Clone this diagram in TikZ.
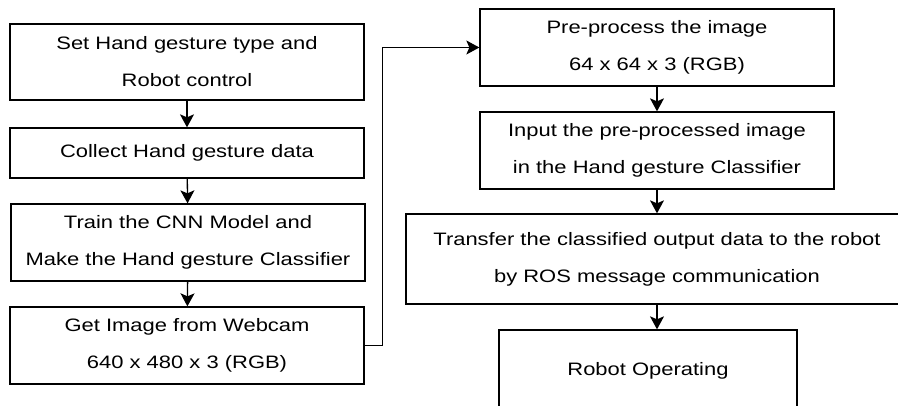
\documentclass[tikz,border=0pt]{standalone}
\usepackage{fontspec}
\setmainfont{Liberation Sans}[FakeStretch=1.22]
\usetikzlibrary{arrows.meta}
\begin{document}
\begin{tikzpicture}[x=1pt,y=-1pt,
  stepbox/.style={draw,line width=1.3pt,rectangle,align=center,inner sep=0pt,
    font=\fontsize{18}{37}\selectfont},
  arr/.style={line width=1.3pt,-{Stealth[length=13pt,width=14pt,inset=3pt]}}]
\useasboundingbox (0,0) rectangle (898,406);
\clip (0,0) rectangle (898,406);
% left column
\node[stepbox,minimum width=354pt,minimum height=76pt] (L1) at (187,62)
  {Set Hand gesture type and\\Robot control};
\node[stepbox,minimum width=354pt,minimum height=50pt] (L2) at (187,153)
  {Collect Hand gesture data};
\node[stepbox,minimum width=354pt,minimum height=77pt] (L3) at (188,242.5)
  {Train the CNN Model and\\Make the Hand gesture Classifier};
\node[stepbox,minimum width=354pt,minimum height=77pt] (L4) at (187,345.5)
  {Get Image from Webcam\\640 x 480 x 3 (RGB)};
% right column
\node[stepbox,minimum width=354pt,minimum height=77pt] (R1) at (657,47.5)
  {Pre-process the image\\64 x 64 x 3 (RGB)};
\node[stepbox,minimum width=354pt,minimum height=77pt] (R2) at (657,150.5)
  {Input the pre-processed image\\in the Hand gesture Classifier};
\node[stepbox,minimum width=502pt,minimum height=90pt] (R3) at (657,259)
  {Transfer the classified output data to the robot\\by ROS message communication};
\node[stepbox,minimum width=298pt,minimum height=82pt] (R4) at (648,371)
  {Robot Operating};
% connectors
\draw[arr] (L1) -- (L2);
\draw[arr] (L2) -- (L3);
\draw[arr] (L3) -- (L4);
\draw[arr] (L4.east) -- ++(18,0) |- (R1.west);
\draw[arr] (R1) -- (R2);
\draw[arr] (R2) -- (R3);
\draw[arr] (R3.south) -- (R3.south |- R4.north);
\end{tikzpicture}
\end{document}
